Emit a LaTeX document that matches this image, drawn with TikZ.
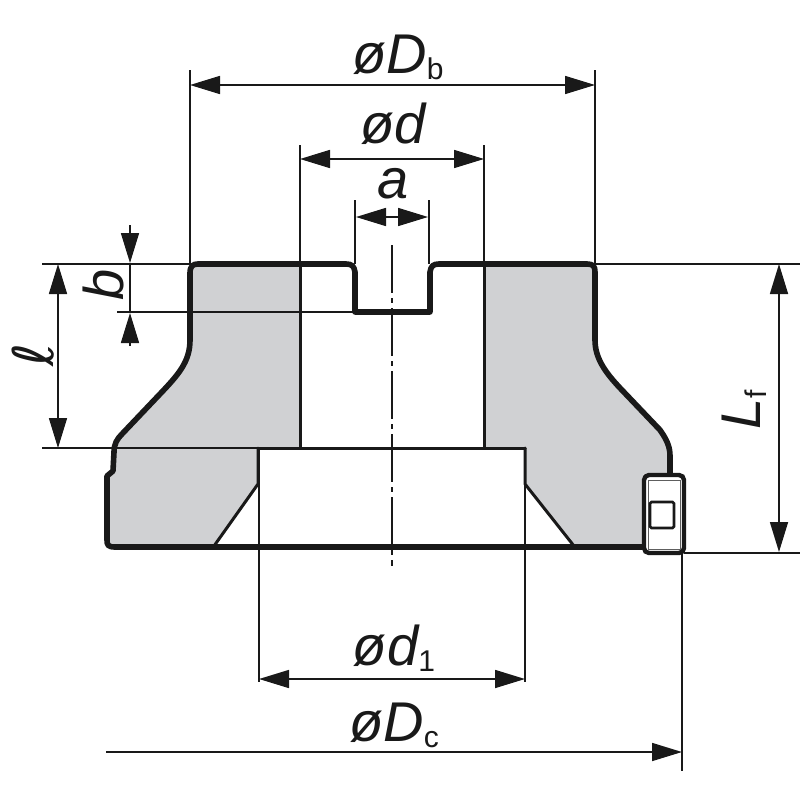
\documentclass[tikz,border=0pt]{standalone}
\usepackage{fontspec}
\setmainfont{Liberation Sans}
\newfontfamily\lfont{DejaVu Sans}
\usetikzlibrary{arrows.meta}
\definecolor{bodygray}{RGB}{208,209,211}
\definecolor{inkk}{RGB}{25,25,25}
\tikzset{
  x=1pt,y=-1pt,
  thin line/.style={line width=1.6pt,draw=inkk},
  heavy/.style={line width=5.6pt,draw=inkk,line join=round,line cap=round},
  medium/.style={line width=3pt,draw=inkk,line join=round,line cap=round},
  dim/.style={thin line,{Triangle[length=30pt,width=18pt,inkk]}-{Triangle[length=30pt,width=18pt,inkk]}},
  lab/.style={inner sep=0pt,text=inkk,font=\fontsize{56}{56}\selectfont\itshape},
}
\newcommand{\subt}[1]{\raisebox{-6pt}{\fontsize{30}{30}\selectfont\upshape #1}}
\begin{document}
\begin{tikzpicture}
\useasboundingbox (0,0) rectangle (800,800);
\fill[white] (0,0) rectangle (800,800);
% gray body
\fill[bodygray] (190,264) -- (300,264) -- (300,448) -- (258,448) -- (258,484) -- (216,544) -- (110,544) -- (110,476) -- (115,471) -- (115,450) -- (122,434) -- (160,394) .. controls (178,375) and (190,362) .. (190,340) -- cycle;
\fill[bodygray] (484,264) -- (595,264) -- (595,340) .. controls (595,358) and (605,372) .. (620,388) -- (660,430) .. controls (667,440) and (670,447) .. (670,456) -- (670,474) -- (643,474) -- (643,544) -- (572,544) -- (525,484) -- (525,448) -- (484,448) -- cycle;
% thin extension lines
\coordinate (dbL) at (190,70); \coordinate (dbR) at (595,70);
\coordinate (dL) at (300,145); \coordinate (dR) at (484,145);
\coordinate (aL) at (355,200); \coordinate (aR) at (429,200);
\draw[thin line] (dbL) -- (190,264);
\draw[thin line] (dbR) -- (595,264);
\draw[thin line] (dL) -- (300,448);
\draw[thin line] (dR) -- (484,448);
\draw[thin line] (aL) -- (355,264);
\draw[thin line] (aR) -- (429,264);
\draw[thin line] (42,264) -- (190,264);
\draw[thin line] (595,264) -- (800,264);
\draw[thin line] (117,312) -- (354,312);
\draw[thin line] (42,448) -- (258,448);
\draw[thin line] (684,553) -- (800,553);
\draw[thin line] (259,448) -- (259,682);
\draw[thin line] (525,448) -- (525,682);
\draw[thin line] (682,553) -- (682,771);
\draw[thin line,dash pattern=on 48pt off 5pt on 5pt off 5pt] (392,245) -- (392,566);
% inner contour
\draw[medium] (300,264) -- (300,448);
\draw[medium] (484,264) -- (484,448);
\draw[medium] (258,448) -- (525,448);
\draw[medium] (258,448) -- (258,484) -- (214,546);
\draw[medium] (525,448) -- (525,484) -- (574,546);
% heavy outline
\draw[heavy] (642,547) -- (115,547) .. controls (108,547) and (107,545) .. (107,540) -- (107,476) -- (113,471) -- (114,452) .. controls (114,444) and (117,439) .. (122,434) -- (160,394) .. controls (178,375) and (190,362) .. (190,340) -- (190,273) .. controls (190,266) and (193,264) .. (198,264) -- (346,264) .. controls (352,264) and (354,266) .. (355,272) -- (355,312) -- (430,312) -- (430,272) .. controls (431,266) and (433,264) .. (439,264) -- (587,264) .. controls (593,264) and (595,266) .. (595,272) -- (595,340) .. controls (595,358) and (605,372) .. (620,388) -- (660,430) .. controls (667,440) and (670,447) .. (670,456) -- (670,474);
% insert
\draw[line width=4.4pt,draw=inkk,fill=white,rounded corners=5pt] (644,475) rectangle (684,553);
\draw[line width=1pt,draw=inkk!70] (648,480) rectangle (680,549);
\draw[line width=2.6pt,draw=inkk,rounded corners=1.5pt,fill=white] (650,502) rectangle (674,528);
% dimensions
\draw[dim] (190,85) -- (595,85);
\draw[dim] (300,159) -- (484,159);
\draw[dim] (259,679) -- (525,679);
\draw[dim] (58,264) -- (58,448);
\draw[dim] (779,264) -- (779,552);
\draw[thin line,-{Triangle[length=30pt,width=18pt,inkk]}] (106,752) -- (682,752);
% a: arrows from centre gap
\coordinate (aC1) at (387,217); \coordinate (aC2) at (397,217);
\draw[thin line] (aC1) -- (aC2);
\draw[thin line,-{Triangle[length=30pt,width=18pt,inkk]}] (aC1) -- (356,217);
\draw[thin line,-{Triangle[length=30pt,width=18pt,inkk]}] (aC2) -- (428,217);
% b: outside arrows
\draw[thin line,-{Triangle[length=30pt,width=18pt,inkk]}] (130,225) -- (130,263);
\draw[thin line,-{Triangle[length=30pt,width=18pt,inkk]}] (130,346) -- (130,313);
\draw[thin line] (130,264) -- (130,312);
% labels
\node[lab] (tDb) at (398,57) {øD\subt{b}};
\node[lab] (td) at (393,124) {ød};
\node[lab] (ta) at (393,184) {a};
\node[lab,rotate=90] (tb) at (103,285) {b};
\node[lab,rotate=90,font=\fontsize{56}{56}\lfont\itshape] (tl) at (33,355) {ℓ};
\node[lab,rotate=90] (tLf) at (744,410) {L\subt{f}};
\node[lab] (td1) at (394,648) {ød\subt{1}};
\node[lab] (tDc) at (394,725) {øD\subt{c}};
\end{tikzpicture}
\end{document}
